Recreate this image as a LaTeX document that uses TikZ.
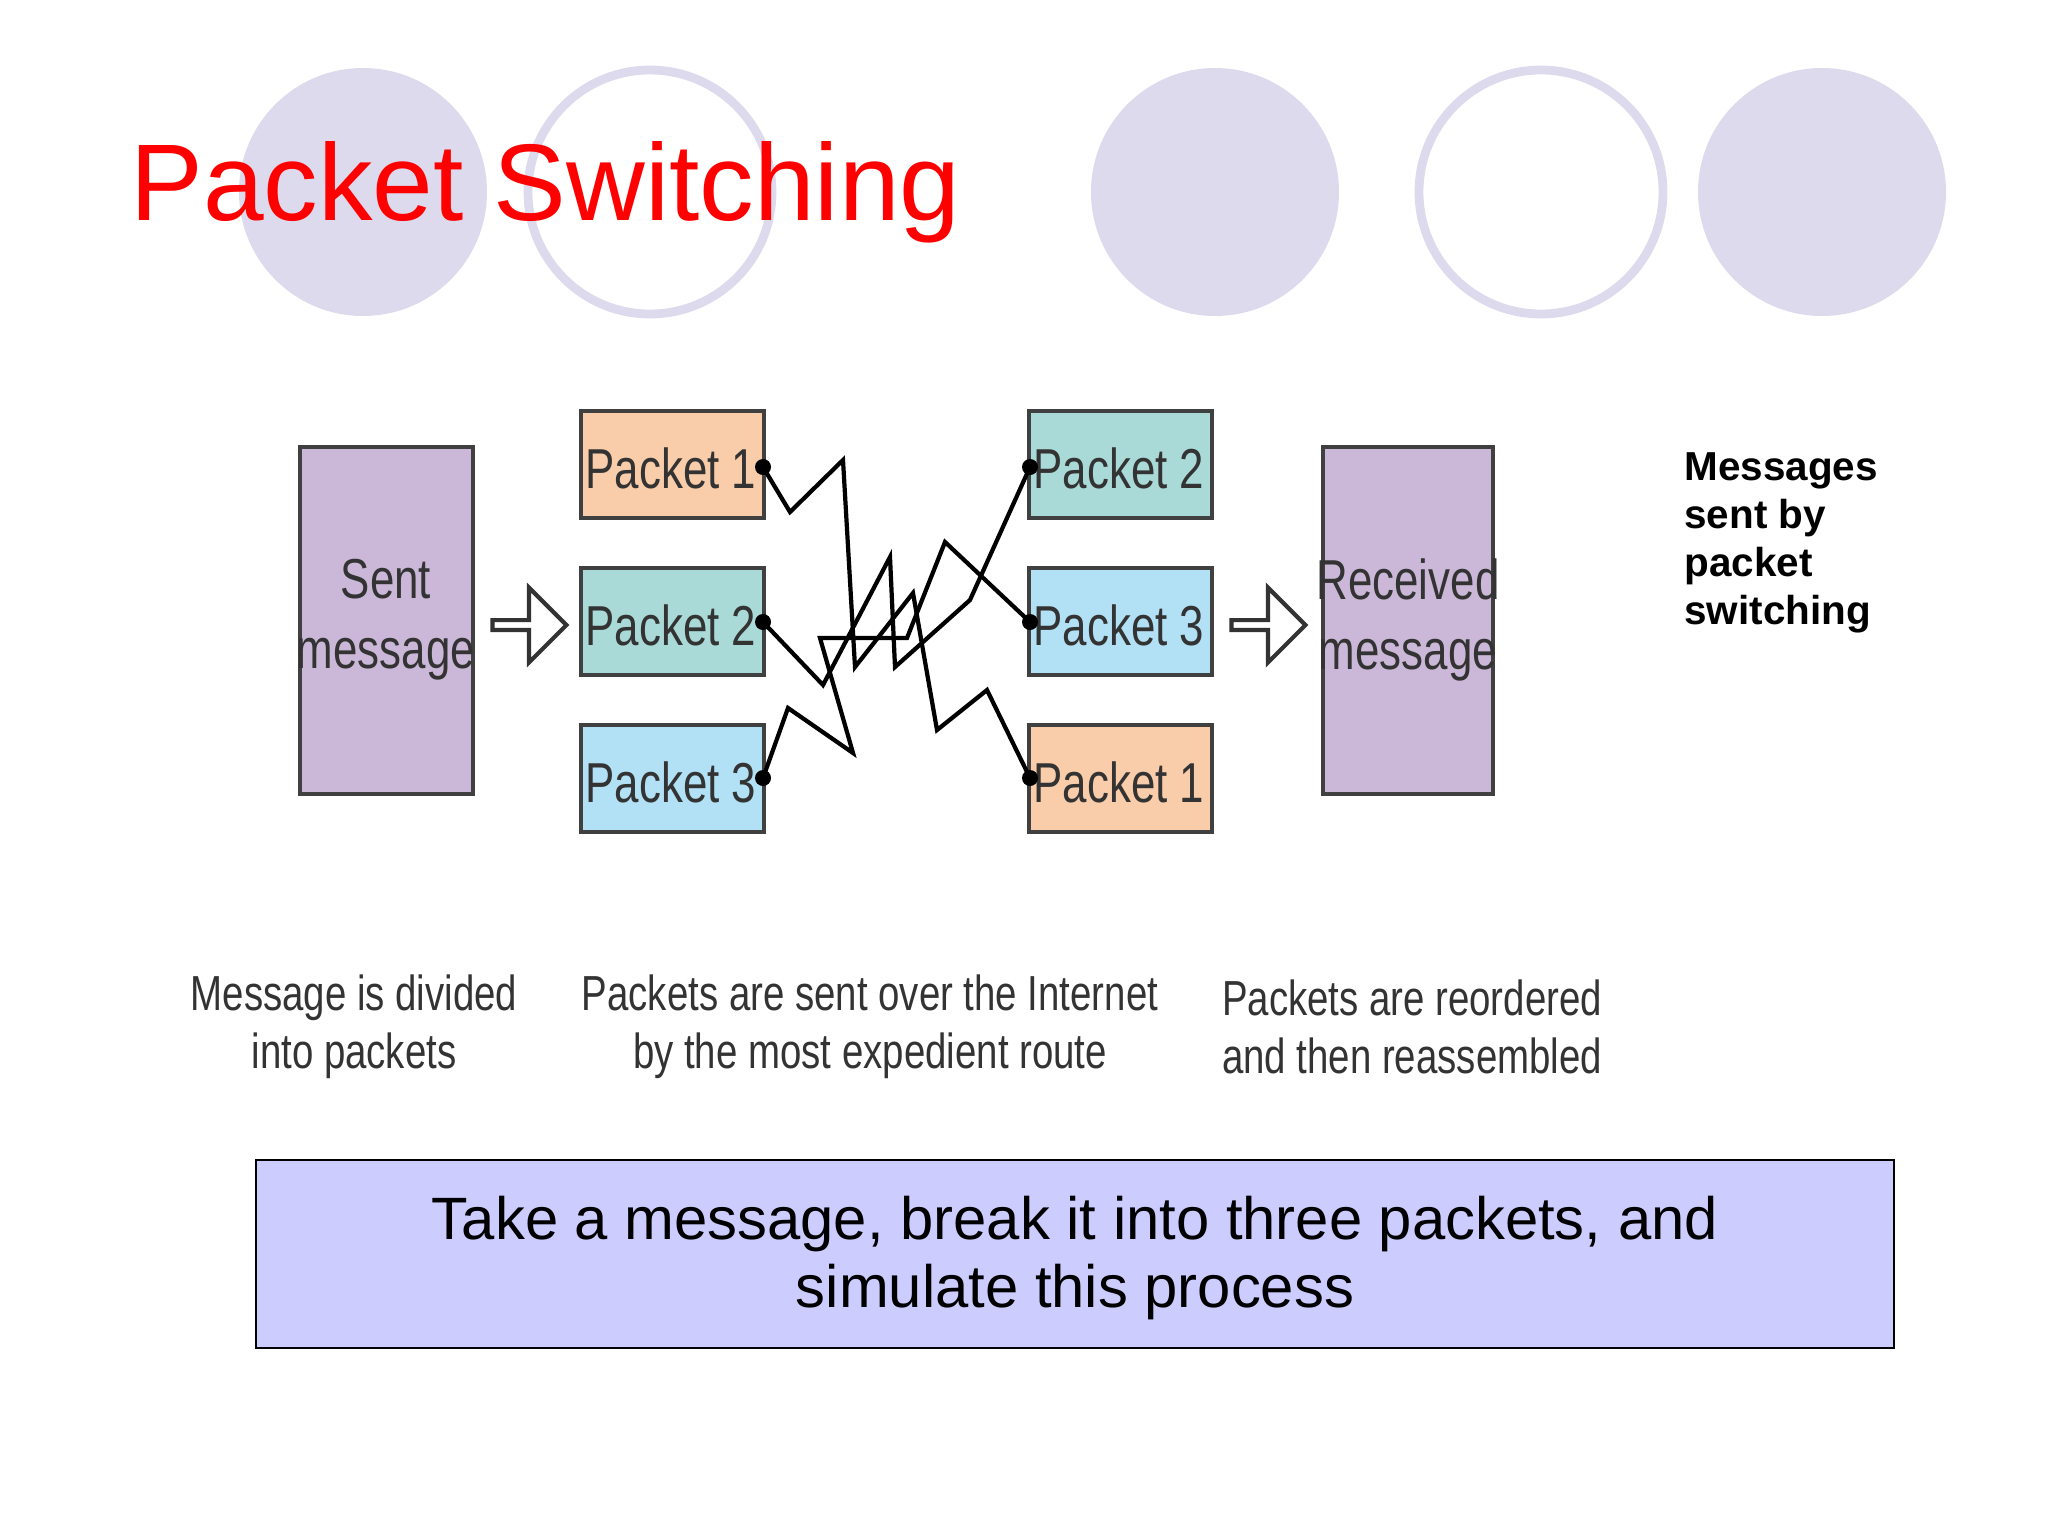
\documentclass[tikz,border=0pt]{standalone}
\usepackage{fontspec}
\setmainfont{Liberation Sans}
\usetikzlibrary{shapes.arrows,calc}
\definecolor{circ}{HTML}{DCDAEC}
\definecolor{msg}{HTML}{CBB8D8}
\definecolor{pone}{HTML}{F9CDAA}
\definecolor{ptwo}{HTML}{A9DAD8}
\definecolor{pthree}{HTML}{B2E0F5}
\definecolor{note}{HTML}{CCCCFF}
\begin{document}
\begin{tikzpicture}[x=0.01cm,y=-0.01cm]
\tikzset{
 lbl/.style={font=\fontsize{14}{16.5}\selectfont,text=black!80,align=center,xscale=0.78},
 route/.style={line width=1.2pt,black},
 harrow/.style={single arrow,draw=black!80,line width=1.2pt,fill=white,minimum height=0.74cm,
  single arrow head extend=4pt,minimum width=0.75cm,inner sep=0pt}
}
\useasboundingbox (0,0) rectangle (2048,1536);
% circles
\fill[circ] (363,192) circle (124);
\draw[circ,line width=2.5pt] (650,192) circle (122);
\fill[circ] (1215,192) circle (124);
\draw[circ,line width=2.5pt] (1541,192) circle (122);
\fill[circ] (1822,192) circle (124);
\node[anchor=west,text=red,font=\fontsize{31}{36}\selectfont] (title) at (118,192) {Packet Switching};
% boxes
\filldraw[msg,draw=black!75,line width=1.4pt] (300,447) rectangle (473,794);
\node[lbl,font=\fontsize{16}{20}\selectfont] (sent) at (386,620) {Sent\\message};
\filldraw[msg,draw=black!75,line width=1.4pt] (1323,447) rectangle (1493,794);
\node[lbl,font=\fontsize{16}{20}\selectfont] (recv) at (1408,620) {Received\\message};
\foreach \n/\x/\y/\c/\t in {l1/581/411/pone/1,l2/581/568/ptwo/2,l3/581/725/pthree/3,
  r2/1029/411/ptwo/2,r3/1029/568/pthree/3,r1/1029/725/pone/1}{
  \filldraw[fill=\c,draw=black!75,line width=1.4pt] (\x,\y) rectangle ++(183,107);
  \node[lbl,font=\fontsize{16}{20}\selectfont] (\n) at ($(\x,\y)+(90,57)$) {Packet \t};
}
% hollow arrows
\node[harrow] (a1) at (527,625) {};
\node[harrow] (a2) at (1266,625) {};
% route ends
\coordinate (s1) at (763,467); \coordinate (s2) at (763,622); \coordinate (s3) at (763,778);
\coordinate (e2) at (1030,467); \coordinate (e3) at (1030,622); \coordinate (e1) at (1030,778);
\draw[route] (s1) -- (790,512) -- (843,460) -- (855,667) -- (913,593) -- (937,730) -- (987,690) -- (e1);
\draw[route] (s2) -- (823,685) -- (890,557) -- (895,667) -- (970,600) -- (e2);
\draw[route] (s3) -- (788,708) -- (853,753) -- (820,638) -- (907,638) -- (945,542) -- (e3);
\foreach \p in {s1,s2,s3,e1,e2,e3} \fill (\p) circle (8);
% captions
\node[lbl] (c1) at (354,1027) {Message is divided\\into packets};
\node[lbl] (c2) at (870,1027) {Packets are sent over the Internet\\by the most expedient route};
\node[lbl] (c3) at (1412,1027) {Packets are reordered\\and then reassembled};
\node[anchor=north west,align=left,font=\bfseries\fontsize{11.5}{13.7}\selectfont] (side) at (1672,440)
  {Messages\\sent by\\packet\\switching};
% bottom note
\filldraw[note,draw=black,line width=0.8pt] (256,1160) rectangle (1894,1348);
\node[align=center,font=\fontsize{17}{19.6}\selectfont] (task) at (1075,1258)
  {Take a message, break it into three packets, and\\simulate this process};
\end{tikzpicture}
\end{document}
